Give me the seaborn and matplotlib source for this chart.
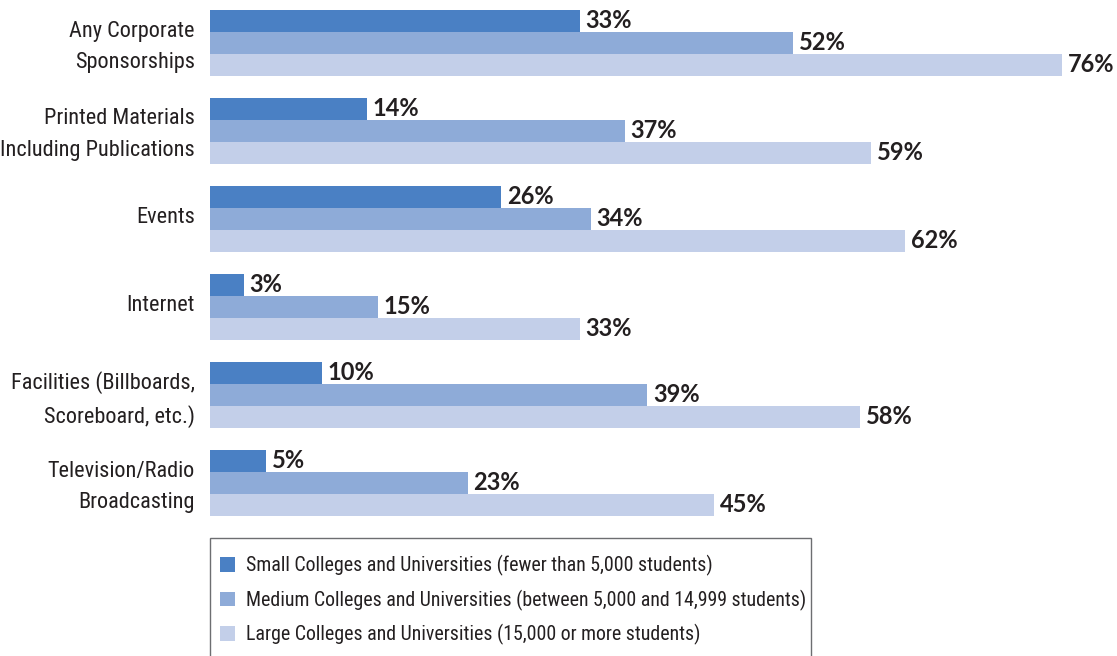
import os
import pandas as pd
import matplotlib.pyplot as plt
import seaborn as sns
from matplotlib import font_manager
from matplotlib.font_manager import FontProperties
from matplotlib.patches import Patch, Rectangle
from matplotlib.transforms import ScaledTranslation

# chart values
categories = [
    "Any Corporate\nSponsorships",
    "Printed Materials\nIncluding Publications",
    "Events",
    "Internet",
    "Facilities (Billboards,\nScoreboard, etc.)",
    "Television/Radio\nBroadcasting",
]
groups = [
    "Small Colleges and Universities (fewer than 5,000 students)",
    "Medium Colleges and Universities (between 5,000 and 14,999 students)",
    "Large Colleges and Universities (15,000 or more students)",
]
small = [33, 14, 26, 3, 10, 5]
medium = [52, 37, 34, 15, 39, 23]
large = [76, 59, 62, 33, 58, 45]
colors = ["#4a80c4", "#8eabd8", "#c3cfe9"]

rows = []
for g, vals in zip(groups, [small, medium, large]):
    for c, v in zip(categories, vals):
        rows.append({"category": c, "group": g, "value": v})
df = pd.DataFrame(rows)

sns.set_theme(style="white")


def pick_condensed():
    # look for a narrow regular face among installed fonts
    files = [f.fname for f in font_manager.fontManager.ttflist]
    prefs = ["LiberationSansNarrow-Regular", "RobotoCondensed-Regular",
             "DejaVuSansCondensed.ttf", "NotoSans-Condensed.ttf",
             "OpenSans-CondensedRegular", "OpenSans_Condensed-Regular"]
    for p in prefs:
        for fn in files:
            if p in os.path.basename(fn):
                return fn
    skip = ["Bold", "Italic", "Oblique", "Light", "Extra", "Semi", "Medium",
            "Black", "Thin", "Mono", "Serif", "CJK"]
    for fn in files:
        b = os.path.basename(fn)
        if ("Condensed" in b or "Narrow" in b) and not any(s in b for s in skip):
            return fn
    return None


cond_file = pick_condensed()
if cond_file:
    def lab_font(size):
        return FontProperties(fname=cond_file, size=size)
else:
    def lab_font(size):
        return FontProperties(family="Roboto", stretch="condensed", size=size - 1.5)

plt.rcParams["font.family"] = ["DejaVu Sans"]
bold_family = ["Lato", "DejaVu Sans"]
txt_color = "#231f20"

fig = plt.figure(figsize=(11.17, 6.56), dpi=100)
ax = fig.add_axes([210 / 1117, 1 - 527 / 656, 852 / 1117, 528 / 656])

sns.barplot(data=df, y="category", x="value", hue="group", palette=colors,
            width=0.75, orient="h", saturation=1, ax=ax, legend=False,
            edgecolor="none", linewidth=0)

ax.set_xlim(0, 76)
ax.set_ylim(5.5, -0.5)
for cont in ax.containers:
    ax.bar_label(cont, fmt="%d%%", padding=4, fontsize=17, fontweight="bold",
                 family=bold_family, color=txt_color, clip_on=False)

sns.despine(ax=ax, left=True, bottom=True)
ax.set_xticks([])
ax.set_xlabel("")
ax.set_ylabel("")
ax.tick_params(axis="y", length=0, pad=11, labelcolor=txt_color)
lift = ScaledTranslation(0, 4 / 100, fig.dpi_scale_trans)  # nudge labels up a few px
for lab in ax.get_yticklabels():
    lab.set_fontproperties(lab_font(16))
    lab.set_linespacing(1.65)
    lab.set_transform(lab.get_transform() + lift)

# legend with an open-bottomed frame
handles = [Patch(facecolor=c, edgecolor="none") for c in colors]
fig.legend(handles, groups, loc="upper left",
           bbox_to_anchor=(212 / 1117, 1 - 547 / 656), frameon=False,
           prop=lab_font(14.3), handlelength=0.75, handleheight=0.75,
           handletextpad=0.55, labelspacing=0.68, borderaxespad=0,
           labelcolor=txt_color)
fig.add_artist(Rectangle((210 / 1117, -0.05), (811 - 210) / 1117,
                         (1 - 538 / 656) + 0.05, transform=fig.transFigure,
                         fill=False, edgecolor="#6d6e71", linewidth=1))

fig.savefig("out.png", dpi=100)
